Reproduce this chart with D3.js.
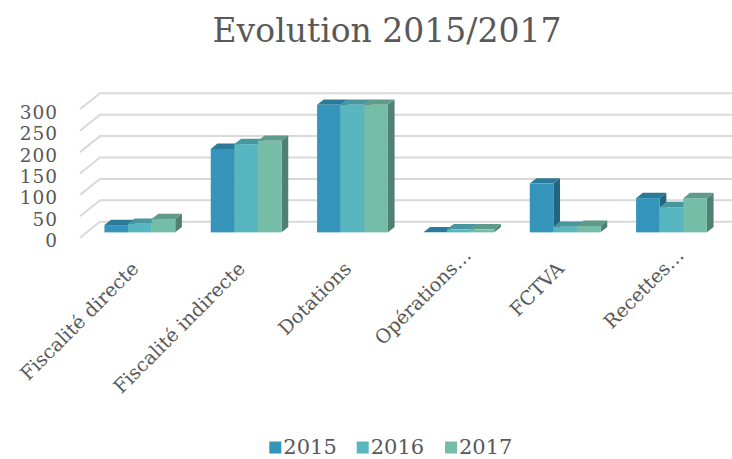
<!DOCTYPE html>
<html><head><meta charset="utf-8">
<script src="https://cdn.jsdelivr.net/npm/d3@7"></script>
<style>html,body{margin:0;padding:0;background:#fff;}</style>
</head><body>
<script>
const categories = ["Fiscalité directe","Fiscalité indirecte","Dotations","Opérations…","FCTVA","Recettes…"];
const seriesNames = ["2015","2016","2017"];
const values2015 = [17, 195, 298, 0, 114, 80];
const values2016 = [20, 206, 298, 7, 13, 59];
const values2017 = [31, 214, 298, 7, 15, 80];
const yTicks = [0, 50, 100, 150, 200, 250, 300];
const title = "Evolution 2015/2017";
const colors = ["#3494BA", "#58B6C0", "#75BDA7"];

const seriesValues = [values2015, values2016, values2017];
const W = 732, H = 459;
const font = "DejaVu Serif, serif";
const textColor = "#595959";

const svg = d3.select("body").append("svg").attr("width", W).attr("height", H);

// 3D geometry: front floor plane and depth vector
const depth = {dx: 20, dy: -16};
const frontX0 = 80, frontX1 = 718;
const yFront = d3.scaleLinear().domain([0, 300]).range([237.7, 109.3]);
const barOff = {dx: depth.dx / 3, dy: depth.dy / 3};
const barDepth = {dx: depth.dx / 3, dy: depth.dy / 3};

// gridlines (floor edge diagonal + back wall)
const grid = svg.append("g");
yTicks.forEach(v => {
  const y = yFront(v);
  grid.append("path")
    .attr("d", `M${frontX0},${y}L${frontX0 + depth.dx},${y + depth.dy}L${W},${y + depth.dy}`)
    .attr("fill", "none").attr("stroke", "#d9d9d9").attr("stroke-width", 2);
});

// y labels
svg.append("g").selectAll("text").data(yTicks).join("text")
  .attr("x", 58).attr("y", d => yFront(d) + 3)
  .attr("text-anchor", "end").attr("dominant-baseline", "central")
  .attr("font-family", font).attr("font-size", 18.5).attr("letter-spacing", 1)
  .attr("fill", textColor)
  .text(d => d);

// bars
const x0 = d3.scaleBand().domain(categories)
  .range([frontX0 + barOff.dx, frontX1 + barOff.dx]).paddingInner(0.334).paddingOuter(0.167);
const x1 = d3.scaleBand().domain(seriesNames).range([0, x0.bandwidth()]);
const yBar = v => yFront(v) + barOff.dy;

const bars = svg.append("g");
categories.forEach((c, i) => {
  seriesNames.forEach((s, j) => {
    const v = seriesValues[j][i];
    const xl = x0(c) + x1(s), w = x1.bandwidth();
    const yt = yBar(v), yb = yBar(0);
    const base = d3.color(colors[j]);
    const g = bars.append("g");
    g.append("path")
      .attr("d", `M${xl + w},${yt}L${xl + w + barDepth.dx},${yt + barDepth.dy}L${xl + w + barDepth.dx},${yb + barDepth.dy}L${xl + w},${yb}Z`)
      .attr("fill", base.darker(1.1));
    g.append("path")
      .attr("d", `M${xl},${yt}L${xl + w},${yt}L${xl + w + barDepth.dx},${yt + barDepth.dy}L${xl + barDepth.dx},${yt + barDepth.dy}Z`)
      .attr("fill", base.darker(0.55));
    g.append("rect").attr("x", xl).attr("y", yt).attr("width", w).attr("height", yb - yt)
      .attr("fill", colors[j]);
  });
});

// category labels (rotated -45°, anchored at the category centre; ellipsis overhangs)
const labG = svg.append("g");
categories.forEach(c => {
  const cx = x0(c) + x0.bandwidth() / 2;
  const truncated = c.endsWith("…");
  const main = truncated ? c.slice(0, -1) : c;
  const g = labG.append("g").attr("transform", `translate(${cx},270) rotate(-45)`);
  g.append("text").attr("text-anchor", "end")
    .attr("font-family", font).attr("font-size", 19.2).attr("fill", textColor).text(main);
  if (truncated) {
    g.append("text").attr("text-anchor", "start")
      .attr("font-family", font).attr("font-size", 19.2).attr("fill", textColor).text("…");
  }
});

// title
svg.append("text").attr("x", 387).attr("y", 41.7).attr("text-anchor", "middle")
  .attr("font-family", font).attr("font-size", 33).attr("fill", textColor).text(title);

// legend
const legX = [269.3, 356.7, 445];
const leg = svg.append("g");
seriesNames.forEach((s, j) => {
  leg.append("rect").attr("x", legX[j]).attr("y", 441.5).attr("width", 12).attr("height", 12).attr("fill", colors[j]);
  leg.append("text").attr("x", legX[j] + 14).attr("y", 453.5)
    .attr("font-family", font).attr("font-size", 21).attr("fill", textColor).text(s);
});
</script>
</body></html>
